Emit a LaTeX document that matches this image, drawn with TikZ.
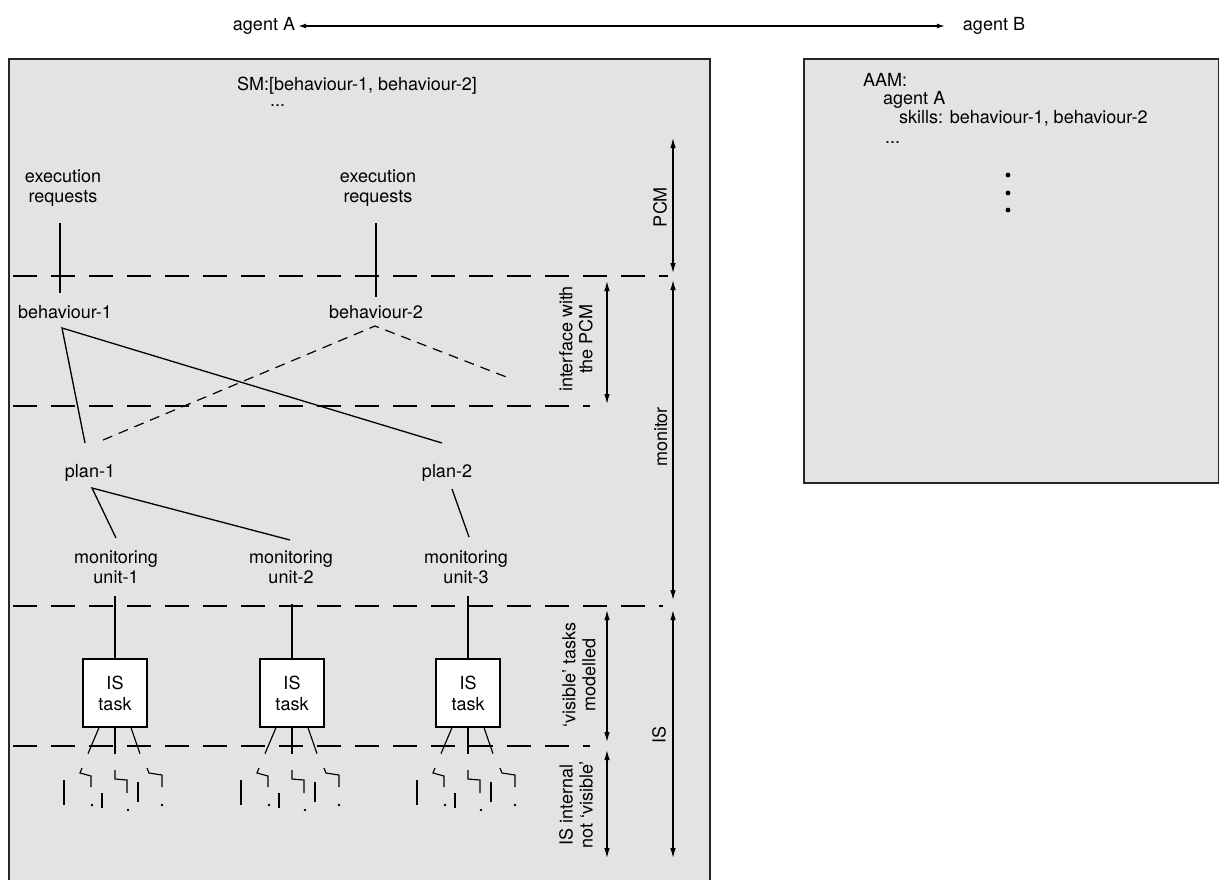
\documentclass[tikz,border=0pt]{standalone}
\usepackage{fontspec}
\setmainfont{TeX Gyre Heros}
\usetikzlibrary{arrows.meta,calc}
\newcommand\isquig[1]{%
  \begin{scope}[xshift=#1pt]
    \draw[thinln] (-51,780) -- (-51,805);
    \draw[thinln] (-33,768) -- (-35,773) -- (-24,776) -- (-24,787);
    \fill (-23,805) circle (1.4);
    \draw[thinln] (-13,793) -- (-13,808);
    \draw[thinln] (0,770) -- (0,779) -- (12,780) -- (12,793);
    \fill (13,810) circle (1.4);
    \draw[thinln] (23,782) -- (23,802);
    \draw[thinln] (32,768) -- (34,773) -- (47,775) -- (47,787);
    \fill (47,805) circle (1.4);
  \end{scope}}
\begin{document}
\begin{tikzpicture}[x=1pt,y=-1pt,
  txt/.style={font=\fontsize{18}{20}\selectfont, inner sep=1pt, align=center},
  ltxt/.style={font=\fontsize{18}{20}\selectfont, inner sep=0pt, anchor=base west},
  ln/.style={line width=1.3pt},
  thinln/.style={line width=1.15pt},
  dln/.style={line width=1.2pt, dash pattern=on 10pt off 7pt},
  hdash/.style={line width=1.3pt, dash pattern=on 24pt off 14pt},
  dar/.style={line width=1.1pt, {Latex[length=10pt,width=5.5pt]}-{Latex[length=10pt,width=5.5pt]}},
  tar/.style={line width=1.1pt, {Latex[length=8pt,width=5pt]}-{Latex[length=8pt,width=5pt]}},
  panel/.style={fill=black!11, draw=black!85, line width=1.9pt},
  taskbox/.style={draw, fill=white, line width=1.3pt, minimum width=64pt,
    minimum height=68pt, inner sep=0pt, align=center, font=\fontsize{18}{21}\selectfont},
]
\useasboundingbox (0,0) rectangle (1220,879);

% panels
\draw[panel] (9,59) rectangle (710,900);
\draw[panel, line width=1.5pt] (804,59) rectangle (1218.5,483);

% top agents
\node[txt] (agA) at (264,26) {agent A};
\node[txt] (agB) at (994,26) {agent B};
\draw[tar, shorten <=2pt, shorten >=17pt] (agA) -- (agB);

% SM text
\node[ltxt] (sm) at (237,90) {SM:[behaviour-1, behaviour-2]};
\node[ltxt] (smdots) at (270,106) {...};

% AAM text
\node[ltxt] (aam) at (863,86) {AAM:};
\node[ltxt] (aamA) at (883,104) {agent A};
\node[ltxt] (aamS) at (899,123) {skills: behaviour-1, behaviour-2};
\node[ltxt] (aamD) at (885,143) {...};
\fill (1008,175) circle (2.4);
\fill (1008,193) circle (2.4);
\fill (1008,210) circle (2.4);

% horizontal dashed separators
\draw[hdash] (13,276) -- (668,276);
\draw[hdash] (13,406) -- (590,406);
\draw[hdash] (13,606) -- (663,606);
\draw[hdash] (13,746) -- (590,746);

% nodes
\node[txt] (ex1) at (63,188) {execution\\requests};
\node[txt] (ex2) at (378,188) {execution\\requests};
\node[txt] (b1) at (65,312) {behaviour-1};
\node[txt] (b2) at (376,312) {behaviour-2};
\node[txt] (p1) at (90,473) {plan-1};
\node[txt] (p2) at (447,473) {plan-2};
\node[txt] (m1) at (116,567) {monitoring\\unit-1};
\node[txt] (m2) at (291,567) {monitoring\\unit-2};
\node[txt] (m3) at (466,567) {monitoring\\unit-3};
\node[taskbox] (t1) at (115,693) {IS\\task};
\node[taskbox] (t2) at (292,693) {IS\\task};
\node[taskbox] (t3) at (468,693) {IS\\task};

% connectors
\draw[ln] ($(ex1)+(-3,35)$) -- ($(b1)+(-5,-19)$);
\draw[ln] ($(ex2)+(-2,35)$) -- ($(b2)+(0,-15)$);
\coordinate (b1a) at ($(b1)+(-3,16)$);
\coordinate (b2a) at ($(b2)+(-1,14)$);
\coordinate (p1a) at ($(p1)+(2,15)$);
\coordinate (p2a) at ($(p2)+(5,16)$);
\coordinate (b2end) at ($(b2)+(133,66)$);
\draw[ln] ($(p1)+(-5,-30)$) -- (b1a) -- ($(p2)+(-5,-30)$);
\draw[dln] ($(p1)+(13,-33)$) -- (b2a) -- (b2end);
\draw[ln] ($(m1)+(0,-29)$) -- (p1a) -- ($(m2)+(-1,-27)$);
\draw[ln] (p2a) -- ($(m3)+(3,-30)$);
\draw[thinln] (t1.north) -- ++(0,-62);
\draw[thinln] (t2.north) -- ++(0,-54);
\draw[thinln] (t3.north) -- ++(0,-62);
\foreach \t in {t1,t2,t3}{
  \draw[thinln] ($(\t.south)+(-16,0)$) -- ++(-11,26);
  \draw[thinln] (\t.south) -- ++(0,26);
  \draw[thinln] ($(\t.south)+(16,0)$) -- ++(9,26);
}
\isquig{115}
\isquig{292}
\isquig{468}

% right-hand range arrows
\coordinate (pcmT) at (673,138);  \coordinate (pcmB) at (673,273);
\coordinate (monT) at (673,280);  \coordinate (monB) at (673,600);
\coordinate (isT)  at (673,610);  \coordinate (isB)  at (673,858);
\coordinate (ifT)  at (607,281);  \coordinate (ifB)  at (607,404);
\coordinate (viT)  at (607,610);  \coordinate (viB)  at (607,742);
\coordinate (inT)  at (607,750);  \coordinate (inB)  at (607,858);
\draw[dar] (pcmT) -- (pcmB);
\draw[dar] (monT) -- (monB);
\draw[dar] (isT) -- (isB);
\draw[dar] (ifT) -- (ifB);
\draw[dar] (viT) -- (viB);
\draw[dar] (inT) -- (inB);

\node[txt, rotate=90] (lpcm) at (660,207) {PCM};
\node[txt, rotate=90] (lmon) at (661,437) {monitor};
\node[txt, rotate=90] (lis) at (659,735) {IS};
\node[txt, rotate=90] (lif) at (576,339) {interface with\\the PCM};
\node[txt, rotate=90] (lvi) at (579,675) {‘visible’ tasks\\modelled};
\node[txt, rotate=90] (lin) at (576,805) {IS internal\\not ‘visible’};
\end{tikzpicture}
\end{document}
